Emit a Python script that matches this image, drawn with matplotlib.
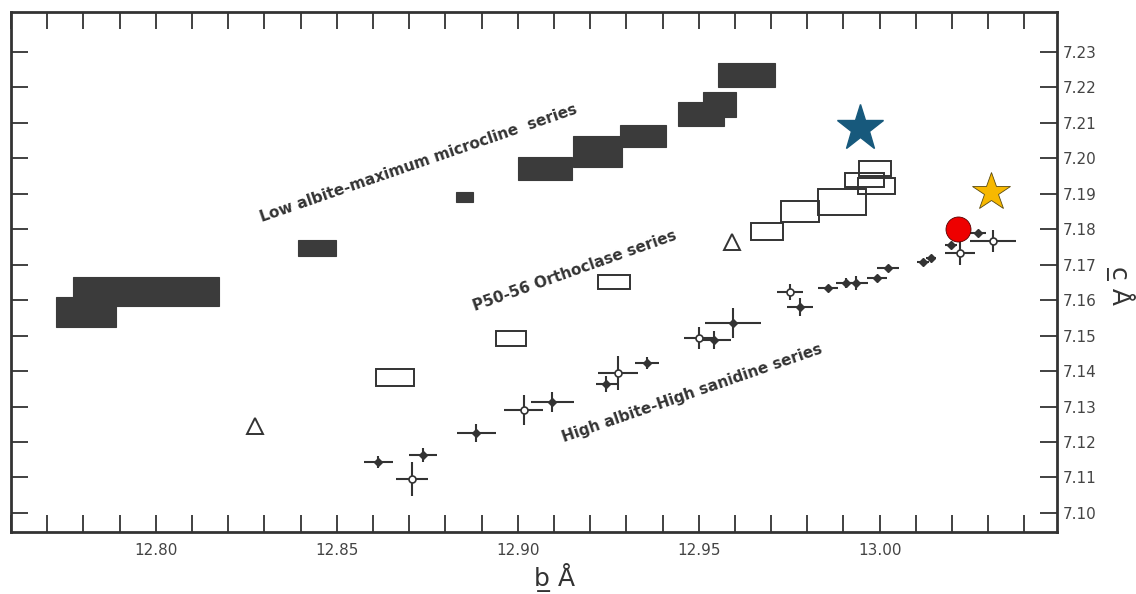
import matplotlib
matplotlib.use("Agg")
import matplotlib.pyplot as plt
from matplotlib.ticker import MultipleLocator, FixedLocator, FormatStrFormatter

# filled rectangles: low albite - maximum microcline series (x0, x1, y0, y1)
micro_x0 = [12.7771, 12.7724, 12.8393, 12.8830, 12.9000, 12.9153, 12.9283, 12.9444, 12.9513, 12.9552]
micro_x1 = [12.8175, 12.7890, 12.8498, 12.8877, 12.9150, 12.9289, 12.9410, 12.9571, 12.9602, 12.9710]
micro_y0 = [7.1584, 7.1525, 7.1725, 7.1877, 7.1939, 7.1976, 7.2032, 7.2091, 7.2117, 7.2201]
micro_y1 = [7.1666, 7.1609, 7.1770, 7.1905, 7.2004, 7.2063, 7.2094, 7.2159, 7.2187, 7.2269]

# open rectangles: P50-56 orthoclase series
orth_x0 = [12.8609, 12.8939, 12.9223, 12.9644, 12.9726, 12.9829, 12.9904, 12.9940, 12.9942]
orth_x1 = [12.8714, 12.9024, 12.9309, 12.9733, 12.9831, 12.9962, 13.0011, 13.0042, 13.0031]
orth_y0 = [7.1358, 7.1471, 7.1632, 7.1770, 7.1821, 7.1840, 7.1919, 7.1900, 7.1950]
orth_y1 = [7.1406, 7.1513, 7.1671, 7.1818, 7.1880, 7.1914, 7.1959, 7.1945, 7.1993]

# open triangles
tri_b = [12.8273, 12.9591]
tri_c = [7.1245, 7.1764]

# crosses: high albite - high sanidine series
san_b = [12.8615, 12.8709, 12.8739, 12.8886, 12.9016, 12.9096, 12.9245, 12.9276, 12.9356,
         12.9500, 12.9541, 12.9594, 12.9751, 12.9779, 12.9857, 12.9906, 12.9934, 12.9992,
         13.0022, 13.0119, 13.0141, 13.0197, 13.0222, 13.0271, 13.0313]
san_c = [7.1144, 7.1096, 7.1164, 7.1226, 7.1290, 7.1313, 7.1364, 7.1395, 7.1423,
         7.1494, 7.1488, 7.1536, 7.1623, 7.1581, 7.1635, 7.1649, 7.1649, 7.1663,
         7.1691, 7.1708, 7.1719, 7.1756, 7.1733, 7.1790, 7.1767]
san_berr = [0.0039, 0.0044, 0.0039, 0.0053, 0.0055, 0.0060, 0.0028, 0.0055, 0.0033,
            0.0041, 0.0047, 0.0077, 0.0036, 0.0036, 0.0028, 0.0028, 0.0033, 0.0028,
            0.0030, 0.0017, 0.0014, 0.0017, 0.0042, 0.0022, 0.0064]
san_cerr = [0.0017, 0.0048, 0.0020, 0.0025, 0.0042, 0.0028, 0.0023, 0.0048, 0.0017,
            0.0031, 0.0025, 0.0042, 0.0023, 0.0025, 0.0006, 0.0014, 0.0020, 0.0008,
            0.0008, 0.0008, 0.0008, 0.0008, 0.0034, 0.0008, 0.0031]
san_open = [False, True, False, False, True, False, False, True, False,
            True, False, False, True, False, False, False, False, False,
            False, False, False, False, True, False, True]

# added highlighted samples
blue_star = (12.9945, 7.2086)
gold_star = (13.0308, 7.1905)
red_dot = (13.0216, 7.1801)

c_ticks = [7.10, 7.11, 7.12, 7.13, 7.14, 7.15, 7.16, 7.17, 7.18, 7.19, 7.20, 7.21, 7.22, 7.23]

ink = "#333333"

fig = plt.figure(figsize=(11.36, 5.94), dpi=100)
ax = fig.add_axes([0.0097, 0.1044, 0.9208, 0.8754])

# filled rectangles
ax.bar(micro_x0, [t - b for b, t in zip(micro_y0, micro_y1)],
       width=[r - l for l, r in zip(micro_x0, micro_x1)], bottom=micro_y0,
       align="edge", color="#3b3b3b", edgecolor="#3b3b3b", linewidth=0.8, zorder=2)

# open rectangles
ax.bar(orth_x0, [t - b for b, t in zip(orth_y0, orth_y1)],
       width=[r - l for l, r in zip(orth_x0, orth_x1)], bottom=orth_y0,
       align="edge", facecolor="none", edgecolor=ink, linewidth=1.4, zorder=2)

ax.plot(tri_b, tri_c, linestyle="none", marker="^", markersize=11,
        markerfacecolor="white", markeredgecolor=ink, markeredgewidth=1.4, zorder=3)

ax.errorbar(san_b, san_c, xerr=san_berr, yerr=san_cerr, fmt="none",
            ecolor=ink, elinewidth=1.5, capsize=0, zorder=3)
fb = [b for b, o in zip(san_b, san_open) if not o]
fc = [c for c, o in zip(san_c, san_open) if not o]
ob = [b for b, o in zip(san_b, san_open) if o]
oc = [c for c, o in zip(san_c, san_open) if o]
ax.plot(fb, fc, linestyle="none", marker="D", markersize=4, color=ink, zorder=4)
ax.plot(ob, oc, linestyle="none", marker="o", markersize=5, markerfacecolor="white",
        markeredgecolor=ink, markeredgewidth=1.2, zorder=4)

ax.plot(*blue_star, marker="*", markersize=35, color="#17597c", linestyle="none", zorder=5)
ax.plot(*gold_star, marker="*", markersize=29, markerfacecolor="#f7b800",
        markeredgecolor="#5a4a10", markeredgewidth=0.6, linestyle="none", zorder=5)
ax.plot(*red_dot, marker="o", markersize=18, markerfacecolor="#ee0000",
        markeredgecolor="#550000", markeredgewidth=0.6, linestyle="none", zorder=5)

# series labels
lab = dict(color=ink, fontsize=11, fontweight="bold", ha="center", va="center",
           rotation_mode="anchor")
ax.text(12.8725, 7.1985, "Low albite-maximum microcline  series", rotation=19, **lab)
ax.text(12.9157, 7.1682, "P50-56 Orthoclase series", rotation=19.5, **lab)
ax.text(12.9481, 7.1338, "High albite-High sanidine series", rotation=19, **lab)

ax.set_xlim(12.760, 13.049)
ax.set_ylim(7.0946, 7.2413)

ax.xaxis.set_major_locator(MultipleLocator(0.05))
ax.xaxis.set_minor_locator(MultipleLocator(0.01))
ax.xaxis.set_major_formatter(FormatStrFormatter("%.2f"))
ax.yaxis.set_major_locator(FixedLocator(c_ticks))
ax.yaxis.set_major_formatter(FormatStrFormatter("%.2f"))
ax.yaxis.tick_right()
ax.tick_params(which="both", direction="in", length=12, width=1.3, color=ink,
               top=True, bottom=True, left=True, right=True,
               labelleft=False, labelright=True, labelsize=11, labelcolor="#444444", pad=4)
ax.tick_params(axis="x", which="major", pad=8)

for s in ax.spines.values():
    s.set_linewidth(2)
    s.set_color(ink)

fig.text(555 / 1136, 1 - 577 / 594, "b\u0332 Å", fontsize=18, color=ink,
         ha="center", va="center")
fig.text(1120 / 1136, 1 - 286 / 594, "c\u0332 Å", fontsize=18, color=ink,
         rotation=-90, ha="center", va="center")

fig.savefig("out.png", dpi=100)
